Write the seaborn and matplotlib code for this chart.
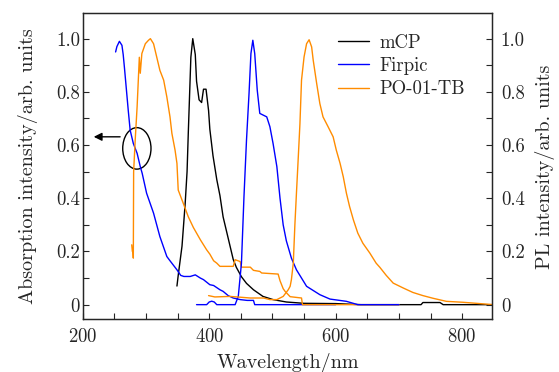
import numpy as np
import pandas as pd
import matplotlib
matplotlib.use("Agg")
import matplotlib.pyplot as plt
import seaborn as sns
from matplotlib.patches import Ellipse
from matplotlib.ticker import MultipleLocator, FixedLocator, FixedFormatter

# ---- data ----
mcp_x = [349, 351, 357, 362, 365, 367, 371, 374, 378, 380, 384, 388, 391, 395, 399, 401, 406,
         412, 417, 422, 428, 433, 438, 443, 451, 459, 470, 485, 501, 522, 550, 600, 640, 735,
         738, 765, 770, 850]
mcp_y = [0.07, 0.11, 0.22, 0.38, 0.5, 0.65, 0.93, 1.0, 0.94, 0.84, 0.77, 0.76, 0.81, 0.81, 0.73,
         0.66, 0.56, 0.47, 0.41, 0.33, 0.27, 0.22, 0.17, 0.14, 0.105, 0.08, 0.056, 0.031, 0.019,
         0.01, 0.005, 0.004, 0.0, 0.0, 0.008, 0.008, 0.0, 0.0]

firpic_abs_x = [252, 254, 258, 262, 264, 266, 269, 272, 275, 280, 286, 291, 294, 301, 312, 322,
                333, 338, 349, 355, 360, 370, 378, 386, 391, 401, 407, 417, 422, 430, 438, 449,
                460, 470, 472, 600]
firpic_abs_y = [0.95, 0.97, 0.99, 0.975, 0.94, 0.89, 0.81, 0.73, 0.656, 0.606, 0.569, 0.519,
                0.494, 0.419, 0.344, 0.256, 0.181, 0.165, 0.131, 0.11, 0.106, 0.106, 0.112, 0.1,
                0.094, 0.075, 0.072, 0.056, 0.05, 0.034, 0.025, 0.019, 0.016, 0.016, 0.0, 0.0]

firpic_pl_x = [380, 396, 400, 404, 408, 412, 441, 446, 451, 455, 459, 463, 466, 469, 472, 476,
               480, 491, 496, 501, 507, 512, 517, 522, 530, 538, 554, 575, 591, 617, 635, 700]
firpic_pl_y = [0.0, 0.0, 0.01, 0.013, 0.01, 0.0, 0.0, 0.031, 0.156, 0.406, 0.619, 0.794, 0.944,
               0.994, 0.944, 0.806, 0.719, 0.706, 0.669, 0.606, 0.519, 0.4, 0.3, 0.24, 0.175,
               0.131, 0.069, 0.0375, 0.021, 0.0125, 0.0, 0.0]

po_abs_x = [277.5, 278.5, 279.5, 280, 280.5, 283, 286, 288, 289.5, 291, 293.5, 299, 304, 307,
            312, 317, 322, 328, 333, 338, 341, 346, 349, 351, 359, 367, 375, 386, 396, 401, 407,
            412, 417, 438, 441, 449, 451, 465, 470, 480, 483, 509, 512, 517, 520, 528, 546,
            547.5, 700]
po_abs_y = [0.225, 0.2, 0.2, 0.175, 0.5, 0.62, 0.744, 0.85, 0.93, 0.87, 0.944, 0.981, 0.994,
            1.0, 0.981, 0.931, 0.881, 0.844, 0.781, 0.706, 0.644, 0.581, 0.531, 0.431, 0.381,
            0.33, 0.29, 0.244, 0.206, 0.19, 0.165, 0.156, 0.144, 0.144, 0.169, 0.162, 0.141,
            0.141, 0.129, 0.125, 0.119, 0.115, 0.09, 0.06, 0.05, 0.03, 0.025, 0.0, 0.0]

po_pl_x = [399, 409, 433, 465, 486, 496, 507, 517, 525, 528, 530, 533, 535.5, 538, 541, 543.5,
           546, 550, 554, 558, 562, 564.5, 570, 575, 580, 588, 596, 601, 607, 612, 617, 622,
           628, 635, 643, 654, 664, 670, 680, 691, 707, 722, 738, 754, 775, 801, 828, 849]
po_pl_y = [0.034, 0.029, 0.031, 0.025, 0.025, 0.019, 0.019, 0.031, 0.056, 0.069, 0.094, 0.156,
           0.3, 0.42, 0.56, 0.68, 0.844, 0.931, 0.981, 0.996, 0.969, 0.919, 0.831, 0.756, 0.706,
           0.669, 0.631, 0.581, 0.531, 0.481, 0.419, 0.369, 0.319, 0.269, 0.231, 0.194, 0.156,
           0.14, 0.11, 0.081, 0.0625, 0.046, 0.034, 0.024, 0.0125, 0.009, 0.004, 0.0]

series_names = ["mCP", "Firpic", "PO-01-TB"]
ytick_vals = [0, 0.2, 0.4, 0.6, 0.8, 1.0]
ytick_labels = ["0", "0.2", "0.4", "0.6", "0.8", "1.0"]
xtick_vals = [200, 400, 600, 800]

# ---- style ----
sns.set_style("ticks")
plt.rcParams["font.family"] = ["cmr10", "DejaVu Serif"]
plt.rcParams["mathtext.fontset"] = "cm"
plt.rcParams["axes.unicode_minus"] = False
plt.rcParams["axes.formatter.use_mathtext"] = True

colors = {"mCP": "#000000", "Firpic": "#0000ff", "PO-01-TB": "#ff8c00"}

fig = plt.figure(figsize=(5.59, 3.72), dpi=100)
ax = fig.add_axes([0.148, 0.1417, 0.733, 0.8223])

lw = 1.0
curves = [
    (mcp_x, mcp_y, "mCP", True),
    (firpic_abs_x, firpic_abs_y, "Firpic", True),
    (po_abs_x, po_abs_y, "PO-01-TB", True),
    (firpic_pl_x, firpic_pl_y, "Firpic", False),
    (po_pl_x, po_pl_y, "PO-01-TB", False),
]
for xs, ys, name, lab in curves:
    df = pd.DataFrame({"x": xs, "y": ys})
    sns.lineplot(data=df, x="x", y="y", sort=False, estimator=None, color=colors[name],
                 linewidth=lw, label=name if lab else None, ax=ax, legend=False)

ax.set_xlim(200, 848)
ax.set_ylim(-0.055, 1.095)

tfs = 13.5
lfs = 14.5
ax.xaxis.set_major_locator(FixedLocator(xtick_vals))
ax.xaxis.set_minor_locator(MultipleLocator(50))
ax.yaxis.set_major_locator(FixedLocator(ytick_vals))
ax.yaxis.set_major_formatter(FixedFormatter(ytick_labels))
ax.yaxis.set_minor_locator(MultipleLocator(0.1))
ax.tick_params(which="both", direction="in", length=4, width=0.8, labelsize=tfs,
               top=False, right=False)
ax.tick_params(axis="x", which="both", pad=6)
ax.tick_params(axis="y", which="both", pad=2)
for s in ax.spines.values():
    s.set_linewidth(1.0)

ax.set_xlabel("Wavelength/nm", fontsize=lfs, labelpad=5)
ax.set_ylabel("Absorption intensity/arb. units", fontsize=lfs, labelpad=13)

ax2 = ax.twinx()
ax2.set_ylim(ax.get_ylim())
ax2.yaxis.set_major_locator(FixedLocator(ytick_vals))
ax2.yaxis.set_major_formatter(FixedFormatter(ytick_labels))
ax2.yaxis.set_minor_locator(MultipleLocator(0.1))
ax2.tick_params(which="both", direction="in", length=4, width=0.8, labelsize=tfs, pad=6)
ax2.set_ylabel("PL intensity/arb. units", fontsize=lfs, labelpad=7)

# ellipse and arrow
ax.add_patch(Ellipse((285.6, 0.5875), 44.7, 0.156, fill=False, edgecolor="black", linewidth=1.0))
ax.annotate("", xy=(213, 0.631), xytext=(263.5, 0.631),
            arrowprops=dict(arrowstyle="-|>", color="black", lw=1.0, mutation_scale=12))

leg = ax.legend(handles=ax.get_lines()[:3], labels=series_names, loc="upper left",
                bbox_to_anchor=(0.604, 0.958), borderaxespad=0, frameon=False, fontsize=tfs,
                handlelength=1.65, handletextpad=0.6, labelspacing=0.28)

fig.savefig("out.png", dpi=100)
